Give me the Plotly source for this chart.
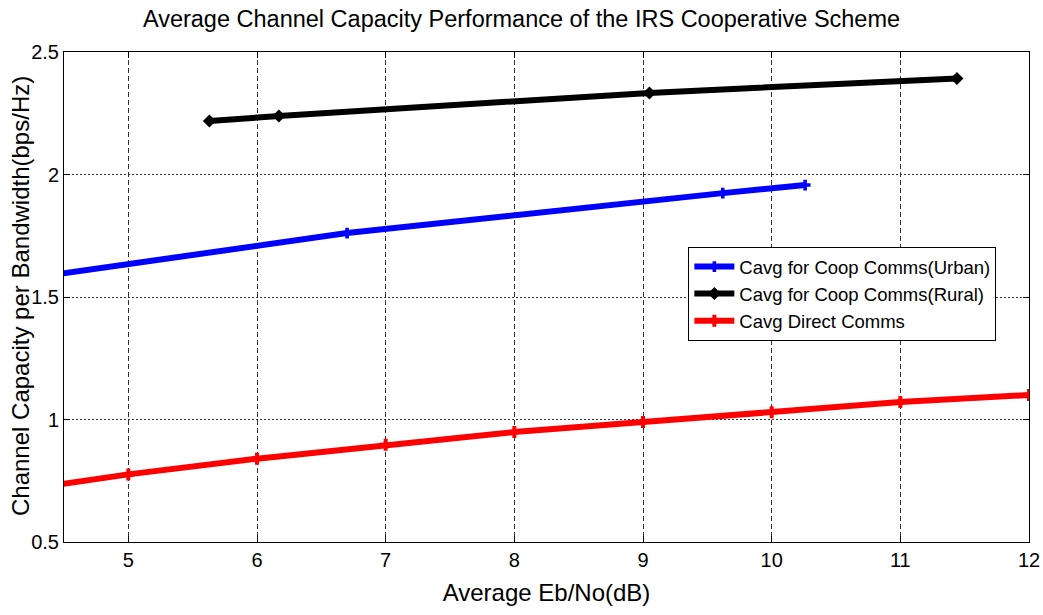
import plotly.graph_objects as go

# Data
red_x = [4.0, 5, 6, 7, 8, 9, 10, 11, 12]
red_y = [0.70, 0.776, 0.840, 0.897, 0.949, 0.990, 1.030, 1.071, 1.100]

blue_x = [4.0, 6.70, 9.62, 10.26]
blue_y = [1.560, 1.761, 1.924, 1.957]

black_x = [5.63, 6.17, 9.05, 11.44]
black_y = [2.218, 2.239, 2.333, 2.392]

x_ticks = [5, 6, 7, 8, 9, 10, 11, 12]
y_ticks = [0.5, 1, 1.5, 2, 2.5]
y_tick_text = ["0.5", "1", "1.5", "2", "2.5"]

NARROW = "Liberation Sans Narrow, Arial Narrow, Liberation Sans, Arial, sans-serif"
REG = "Liberation Sans, Arial, sans-serif"

fig = go.Figure()
fig.add_trace(go.Scatter(
    x=blue_x, y=blue_y, mode="lines+markers", name="Cavg for Coop Comms(Urban)",
    line=dict(color="#0000ff", width=6),
    marker=dict(symbol="cross", size=9, color="#0000ff")))
fig.add_trace(go.Scatter(
    x=black_x, y=black_y, mode="lines+markers", name="Cavg for Coop Comms(Rural)",
    line=dict(color="#000000", width=6),
    marker=dict(symbol="diamond", size=10, color="#000000")))
fig.add_trace(go.Scatter(
    x=red_x, y=red_y, mode="lines+markers", name="Cavg Direct Comms",
    line=dict(color="#ff0000", width=6),
    marker=dict(symbol="cross", size=10, color="#ff0000")))

fig.update_layout(
    width=1043, height=615,
    margin=dict(l=64, r=14, t=52, b=73),
    paper_bgcolor="white", plot_bgcolor="white",
    title=dict(text="Average Channel Capacity Performance of the IRS Cooperative Scheme",
               x=0.5, xanchor="center", y=0.970, yanchor="middle",
               font=dict(family=NARROW, size=23.5, color="black")),
    showlegend=True,
    legend=dict(x=0.647, y=0.602, xanchor="left", yanchor="top",
                bgcolor="white", bordercolor="black", borderwidth=1,
                font=dict(family=NARROW, size=18.5, color="black"),
                tracegroupgap=0, itemwidth=40),
    xaxis=dict(range=[4.5, 12], tickvals=x_ticks, ticks="inside", ticklen=6,
               tickcolor="black", showline=True, linecolor="black", linewidth=1,
               mirror="ticks", showgrid=True, gridcolor="#333333", griddash="5px,3px",
               gridwidth=1, zeroline=False, automargin=False,
               tickfont=dict(family=NARROW, size=20, color="black"),
               title=dict(text="Average Eb/No(dB)", standoff=14,
                          font=dict(family=NARROW, size=24, color="black"))),
    yaxis=dict(range=[0.5, 2.5], tickvals=y_ticks, ticktext=y_tick_text,
               ticks="inside", ticklen=6, tickcolor="black", showline=True,
               linecolor="black", linewidth=1, mirror="ticks", showgrid=True,
               gridcolor="#333333", griddash="2px,2px", gridwidth=1, zeroline=False,
               automargin=False,
               tickfont=dict(family=NARROW, size=20, color="black")),
    annotations=[dict(text="Channel Capacity per Bandwidth(bps/Hz)",
                      xref="paper", yref="paper", x=-0.0456, y=0.502,
                      xanchor="center", yanchor="middle", textangle=-90,
                      showarrow=False,
                      font=dict(family=REG, size=24, color="black"))],
)

fig.write_html("out.html")
